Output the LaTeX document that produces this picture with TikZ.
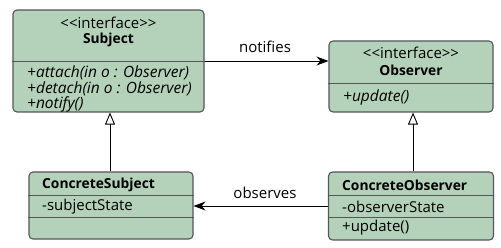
\documentclass[tikz,border=0pt]{standalone}
\usepackage{fontspec}
\setmainfont{Open Sans}
\usetikzlibrary{arrows.meta}
\definecolor{boxfill}{HTML}{B4D2BA}
\definecolor{boxline}{HTML}{555555}

\begin{document}
\begin{tikzpicture}[x=1pt,y=-1pt,
  umlbox/.style={draw=boxline,fill=boxfill,line width=1.1pt,rounded corners=4pt,inner sep=0pt},
  sep/.style={draw=boxline,line width=0.9pt},
  lbl/.style={font=\fontsize{15}{17}\selectfont,inner sep=0pt},
  cname/.style={font=\fontsize{13.8}{16}\selectfont\bfseries,inner sep=0pt},
  member/.style={font=\fontsize{15}{17}\selectfont,inner sep=0pt,anchor=west},
  op/.style={font=\fontsize{15.5}{17}\selectfont\itshape,inner sep=0pt,anchor=west},
  assoc/.style={line width=0.9pt,-{Stealth[length=12pt,width=9pt]}},
  realize/.style={line width=0.9pt,-{Triangle[open,length=12pt,width=10pt,fill=white]}}]
  \useasboundingbox (0,0) rectangle (501,248);

  % interfaces
  \node[umlbox,minimum width=191pt,minimum height=102pt] (subj) at (108.5,61) {};
  \draw[sep] (subj.west |- 0,61) -- (subj.east |- 0,61);
  \node[lbl] (subjst) at (108.5,23) {<{}<interface>{}>};
  \node[cname] (subjname) at (108.5,40) {Subject};
  \foreach \y/\t in {73/{+attach(in o : Observer)},89/{+detach(in o : Observer)},104/{+notify()}}
    \node[op] at (27,\y) {\t};

  \node[umlbox,minimum width=164pt,minimum height=71pt] (obs) at (411,76.5) {};
  \draw[sep] (obs.west |- 0,83) -- (obs.east |- 0,83);
  \node[lbl] (obsst) at (411,53) {<{}<interface>{}>};
  \node[cname] (obsname) at (411,70) {Observer};
  \node[op] (obsop) at (343,97) {+update()};

  % concrete classes
  \node[umlbox,minimum width=164pt,minimum height=67pt] (csub) at (111,205.5) {};
  \draw[sep] (csub.west |- 0,195) -- (csub.east |- 0,195);
  \draw[sep] (csub.west |- 0,217) -- (csub.east |- 0,217);
  \node[cname,anchor=west] (csubname) at (42,185) {ConcreteSubject};
  \node[member] (csubattr) at (42,207) {-subjectState};

  \node[umlbox,minimum width=165pt,minimum height=68pt] (cobs) at (411,206) {};
  \draw[sep] (cobs.west |- 0,195) -- (cobs.east |- 0,195);
  \draw[sep] (cobs.west |- 0,217) -- (cobs.east |- 0,217);
  \node[cname,anchor=west] (cobsname) at (342,185) {ConcreteObserver};
  \node[member] (cobsattr) at (342,207) {-observerState};
  \node[member] (cobsop) at (342,228) {+update()};

  % relations
  \draw[assoc] (subj.east) -- (subj.east -| obs.west);
  \node[lbl] (notif) at (265,47) {notifies};
  \draw[assoc] (cobs.west) -- (cobs.west -| csub.east);
  \node[lbl] (observ) at (265,193) {observes};
  \draw[realize] (csub.north -| 110,0) -- (subj.south -| 110,0);
  \draw[realize] (cobs.north -| 413,0) -- (obs.south -| 413,0);
\end{tikzpicture}
\end{document}
